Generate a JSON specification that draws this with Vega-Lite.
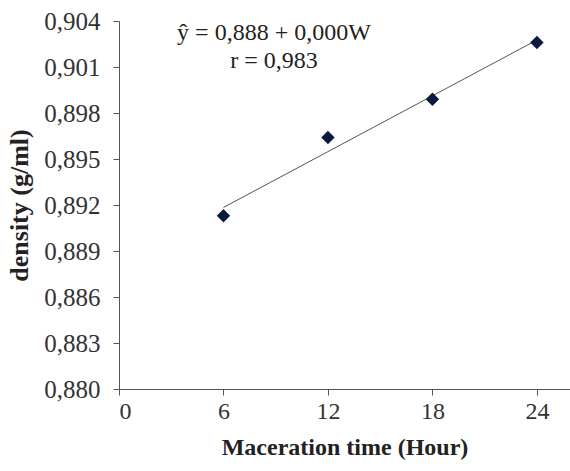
{
  "$schema": "https://vega.github.io/schema/vega-lite/v6.json",
  "autosize": "none",
  "padding": {"left": 119, "top": 21, "right": 0, "bottom": 82},
  "width": 451,
  "height": 368,
  "background": "white",
  "config": {
    "font": "Liberation Serif",
    "view": {"stroke": null},
    "axis": {"grid": false, "domainColor": "#555", "tickColor": "#555", "labelColor": "#333", "titleColor": "#222", "titleFontWeight": "bold", "tickSize": 6}
  },
  "data": {"values": [
    {"time": 6, "density": 0.8913},
    {"time": 12, "density": 0.8964},
    {"time": 18, "density": 0.8989},
    {"time": 24, "density": 0.9026}
  ]},
  "encoding": {
    "x": {"field": "time", "type": "quantitative", "title": "Maceration time (Hour)",
      "scale": {"domain": [0, 25.9], "nice": false},
      "axis": {"values": [0, 6, 12, 18, 24], "labelFont": "Liberation Serif", "labelFontSize": 24, "titleFont": "Liberation Serif", "titleFontSize": 24, "labelPadding": 4, "titlePadding": 12}},
    "y": {"field": "density", "type": "quantitative", "title": "density (g/ml)",
      "scale": {"domain": [0.88, 0.904], "nice": false, "zero": false},
      "axis": {"values": [0.88, 0.883, 0.886, 0.889, 0.892, 0.895, 0.898, 0.901, 0.904], "labelFont": "Liberation Serif", "labelFontSize": 25, "titleFont": "Liberation Serif", "titleFontSize": 26, "labelExpr": "replace(format(datum.value, '.3f'), '.', ',')", "labelPadding": 13, "titlePadding": 11}}
  },
  "layer": [
    {
      "transform": [{"regression": "density", "on": "time", "method": "linear", "extent": [6, 24]}],
      "mark": {"type": "line", "color": "#555", "strokeWidth": 1}
    },
    {
      "mark": {"type": "point", "shape": "diamond", "filled": true, "color": "#0b1a3c", "size": 180, "opacity": 1}
    },
    {
      "data": {"values": [
        {"time": 8.9, "density": 0.9032, "label": "ŷ = 0,888 + 0,000W"},
        {"time": 8.9, "density": 0.9014, "label": "r = 0,983"}
      ]},
      "mark": {"type": "text", "font": "Liberation Serif", "fontSize": 24, "color": "#222", "align": "center", "baseline": "middle"},
      "encoding": {
        "text": {"field": "label"}
      }
    }
  ]
}
